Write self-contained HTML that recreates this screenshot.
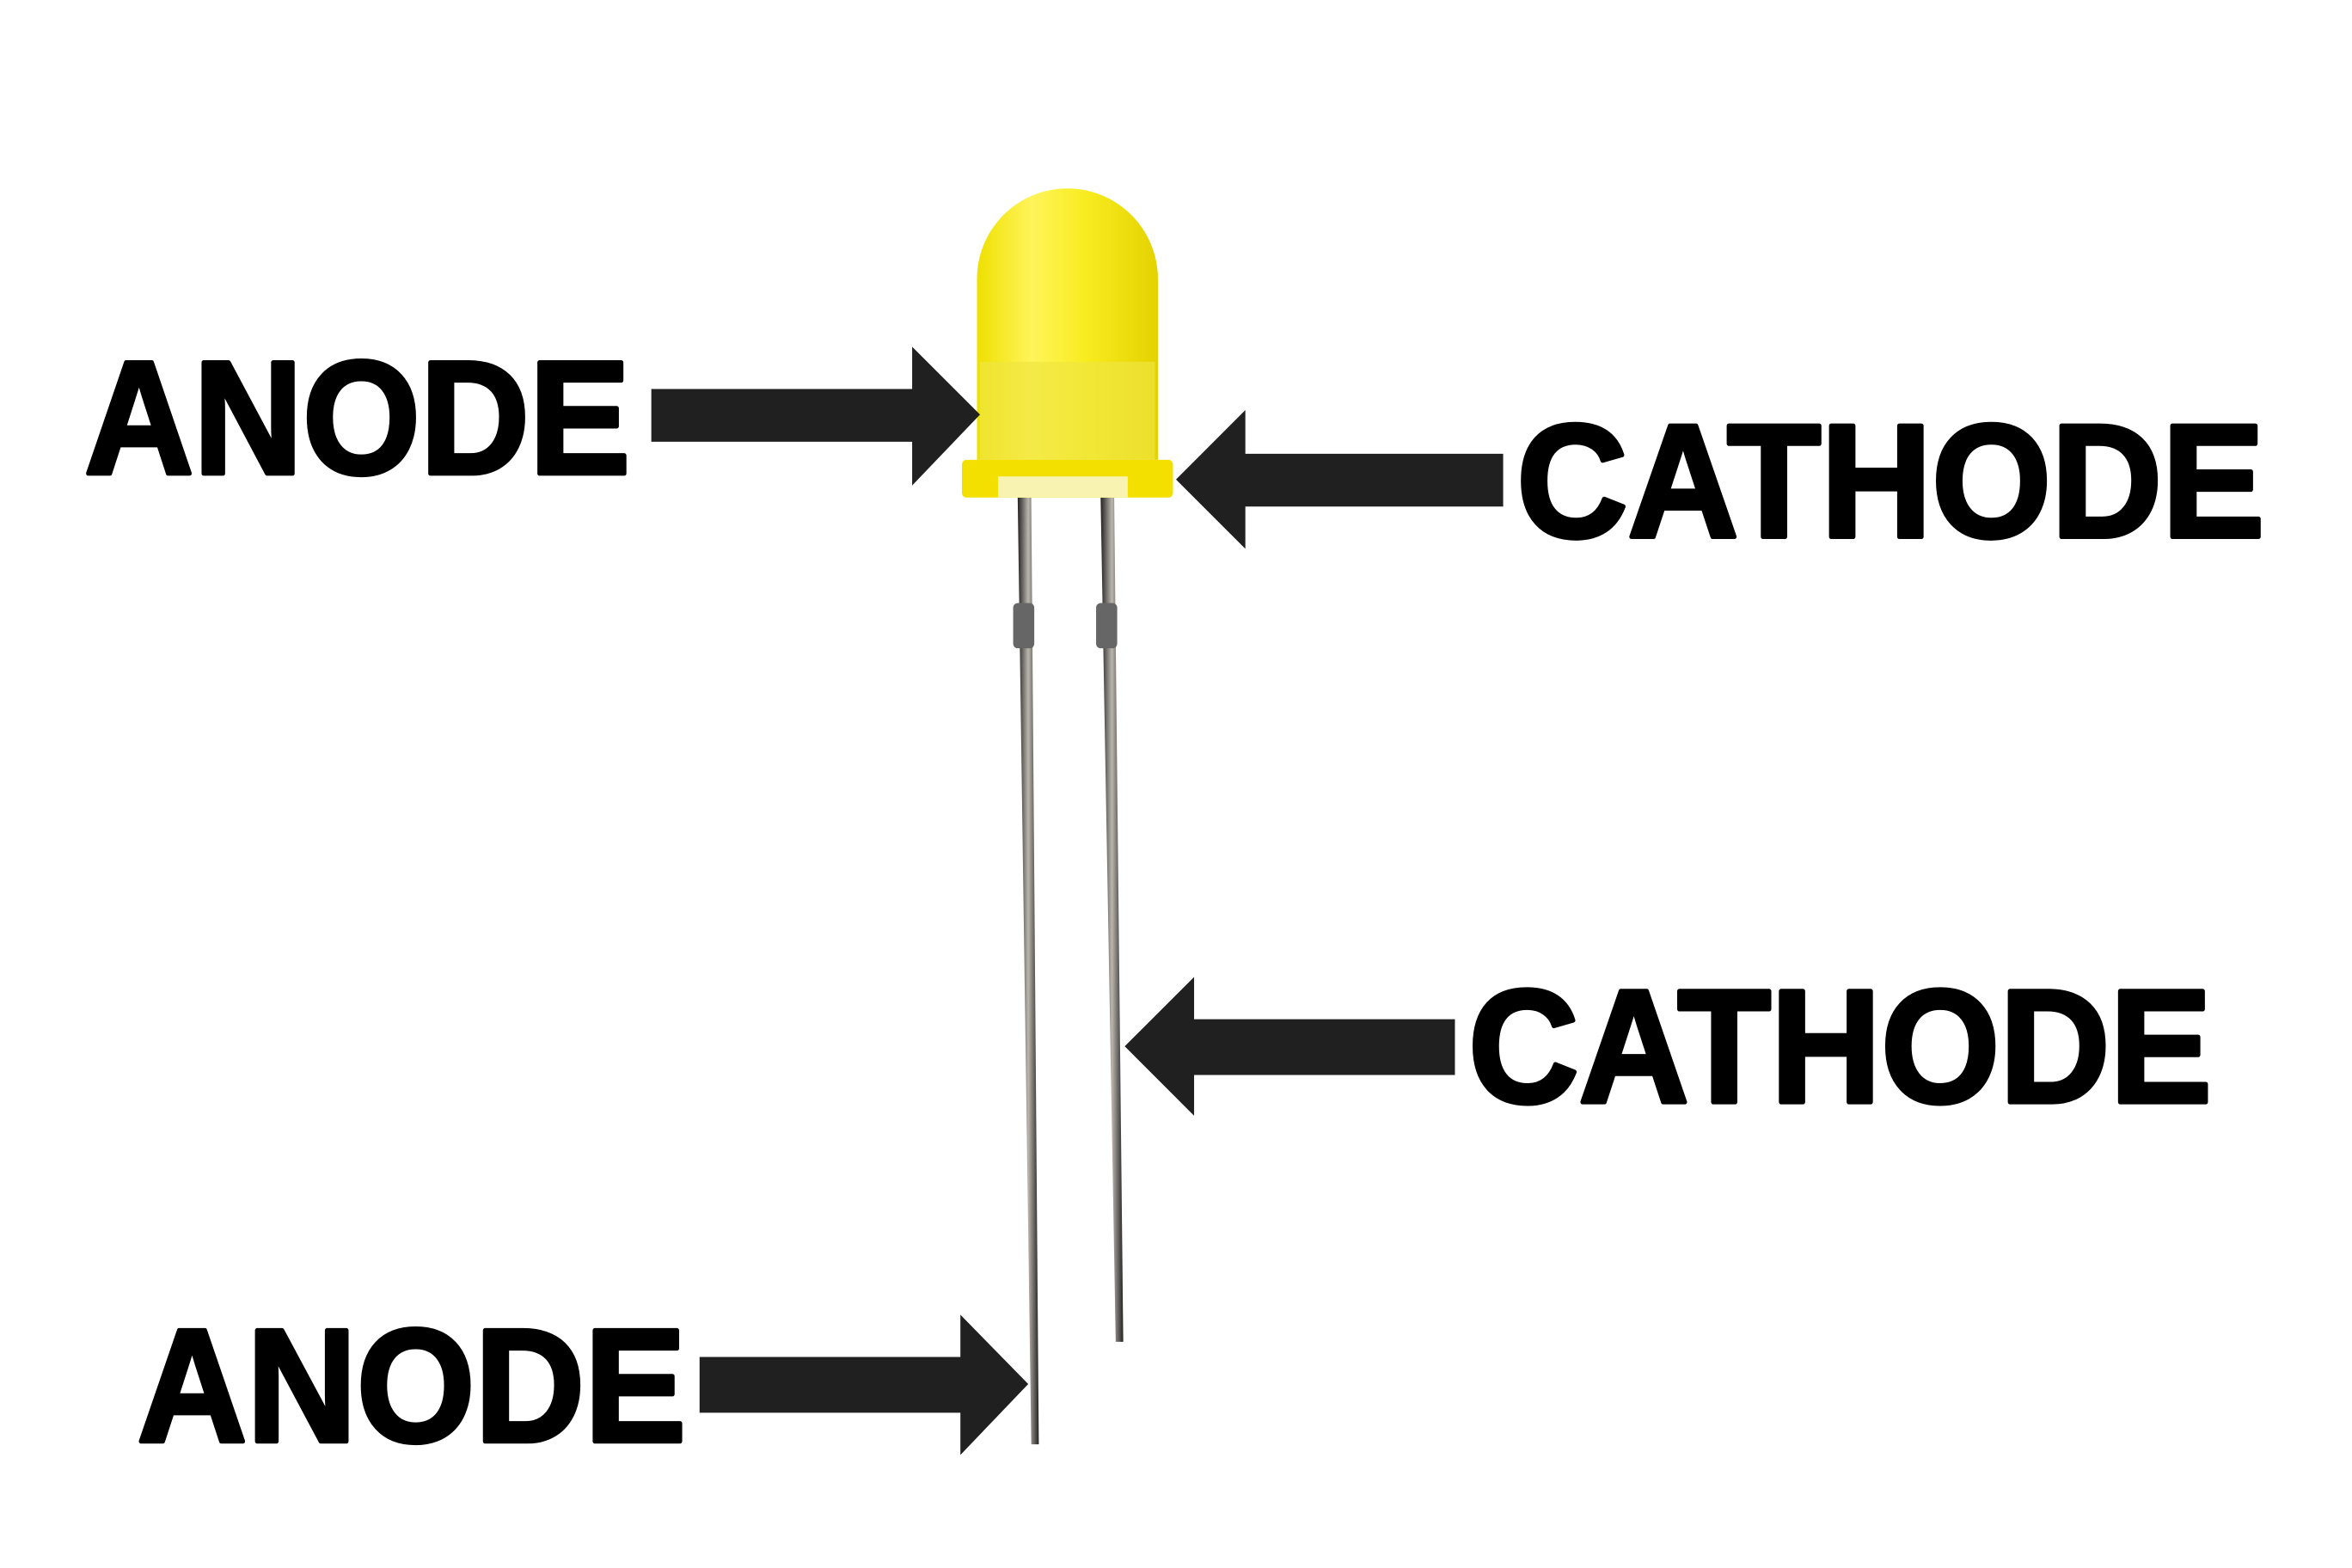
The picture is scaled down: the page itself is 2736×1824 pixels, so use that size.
<!DOCTYPE html>
<html><head><meta charset="utf-8"><style>html,body{margin:0;padding:0;background:#fff}svg{display:block}</style></head>
<body>
<svg width="2736" height="1824" viewBox="0 0 1560 1040" xmlns="http://www.w3.org/2000/svg">
<defs>
<linearGradient id="dome" x1="0" x2="1" y1="0" y2="0">
<stop offset="0" stop-color="#eee000"/><stop offset="0.3" stop-color="#fff45a"/><stop offset="0.6" stop-color="#f8ec20"/><stop offset="1" stop-color="#e4d200"/>
</linearGradient>
<linearGradient id="leg" x1="0" x2="1"><stop offset="0" stop-color="#222"/><stop offset="0.5" stop-color="#bbb6ad"/><stop offset="1" stop-color="#222"/></linearGradient>
</defs>
<rect width="1560" height="1040" fill="#fff"/>
<polygon points="675,330 684,330 689,958 684,958" fill="url(#leg)"/>
<polygon points="730,330 739,330 745,890 740,890" fill="url(#leg)"/>
<rect x="672" y="400" width="14" height="30" fill="#666" rx="3"/>
<rect x="727" y="400" width="14" height="30" fill="#666" rx="3"/>
<path d="M648,305 L648,185 A60,60 0 0 1 768,185 L768,305 Z" fill="url(#dome)"/>
<rect x="650" y="240" width="116" height="65" fill="#efe640" opacity="0.7"/>
<rect x="638" y="305" width="140" height="25" fill="#f3e000" rx="3"/>
<rect x="662" y="316" width="86" height="14" fill="#f8f3b0"/>
<g fill="#202020">
<polygon points="432,258 605,258 605,230 650,275 605,322 605,293 432,293"/>
<polygon points="997,301 826,301 826,272 780,318 826,364 826,336 997,336"/>
<polygon points="965,676 792,676 792,648 746,694 792,740 792,713 965,713"/>
<polygon points="464,900 637,900 637,872 682,918 637,965 637,937 464,937"/>
</g>
<g font-family="Liberation Sans, Arial, sans-serif" font-weight="bold" font-size="107" fill="#000" stroke="#000" stroke-width="3" stroke-linejoin="round">
<text x="56" y="314" textLength="362" lengthAdjust="spacingAndGlyphs">ANODE</text>
<text x="1006" y="356" textLength="496" lengthAdjust="spacingAndGlyphs">CATHODE</text>
<text x="974" y="731" textLength="493" lengthAdjust="spacingAndGlyphs">CATHODE</text>
<text x="91" y="956" textLength="364" lengthAdjust="spacingAndGlyphs">ANODE</text>
</g>
</svg>
</body></html>
